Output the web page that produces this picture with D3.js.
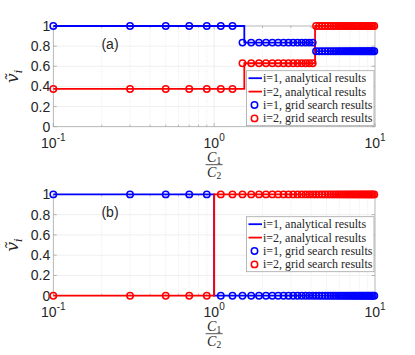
<!DOCTYPE html>
<html><head><meta charset="utf-8">
<script src="https://cdn.jsdelivr.net/npm/d3@7"></script>
<style>body{margin:0;background:#fff}svg{display:block}</style>
</head><body>
<script>
// ---------- data ----------
const gridX = [0.1,0.3,0.5,0.7,0.9,1.1,1.3,1.5,1.7,1.9,2.1,2.3,2.5,2.7,2.9,3.1,3.3,3.5,3.7,3.9,4.1,4.3,4.5,4.7,4.9,5.1,5.3,5.5,5.7,5.9,6.1,6.3,6.5,6.7,6.9,7.1,7.3,7.5,7.7,7.9,8.1,8.3,8.5,8.7,8.9,9.1,9.3,9.5,9.7,9.9];
// panel (a) grid search results
const gridBlueA = [1,1,1,1,1,1,1,0.835,0.835,0.835,0.835,0.835,0.835,0.835,0.835,0.835,0.835,0.835,0.835,0.835,0.835,0.75,0.75,0.75,0.75,0.75,0.75,0.75,0.75,0.75,0.75,0.75,0.75,0.75,0.75,0.75,0.75,0.75,0.75,0.75,0.75,0.75,0.75,0.75,0.75,0.75,0.75,0.75,0.75,0.75];
const gridRedA  = [0.375,0.375,0.375,0.375,0.375,0.375,0.375,0.63,0.63,0.63,0.63,0.63,0.63,0.63,0.63,0.63,0.63,0.63,0.63,0.63,0.63,1,1,1,1,1,1,1,1,1,1,1,1,1,1,1,1,1,1,1,1,1,1,1,1,1,1,1,1,1];
// panel (b) grid search results
const gridBlueB = [1,1,1,1,1,0,0,0,0,0,0,0,0,0,0,0,0,0,0,0,0,0,0,0,0,0,0,0,0,0,0,0,0,0,0,0,0,0,0,0,0,0,0,0,0,0,0,0,0,0];
const gridRedB  = [0,0,0,0,0,1,1,1,1,1,1,1,1,1,1,1,1,1,1,1,1,1,1,1,1,1,1,1,1,1,1,1,1,1,1,1,1,1,1,1,1,1,1,1,1,1,1,1,1,1];
// analytical step functions: breakpoints and levels
const breaksA = [0.1, 1.54, 4.24, 10];
const anaBlueA = [1, 0.835, 0.75];
const anaRedA  = [0.375, 0.63, 1];
const breaksB = [0.1, 1.0, 10];
const anaBlueB = [1, 0];
const anaRedB  = [0, 1];
const yTicks = [0, 0.2, 0.4, 0.6, 0.8, 1];
const yTickLabels = ["0","0.2","0.4","0.6","0.8","1"];
const xTicks = [0.1, 1, 10];
const xTickExp = ["-1","0","1"];
const legendLabels = ["i=1, analytical results","i=2, analytical results","i=1, grid search results","i=2, grid search results"];
const panelLabels = ["(a)","(b)"];

// ---------- drawing ----------
const W = 415, H = 355;
const svg = d3.select("body").append("svg").attr("width", W).attr("height", H);
const BLUE = "#0000ff", RED = "#ff0000";
const x = d3.scaleLog().domain([0.1, 10]).range([53.3, 375]);
const sans = "'Liberation Sans', Arial, sans-serif";
const serif = "'Liberation Serif', 'Times New Roman', serif";

function stepPts(breaks, levels) {
  const pts = levels.map((v, i) => [breaks[i], v]);
  pts.push([breaks[breaks.length - 1], levels[levels.length - 1]]);
  return pts;
}

function panel(top, bottom, cfg) {
  const y = d3.scaleLinear().domain([0, 1]).range([bottom, top]);
  const g = svg.append("g");
  const x0 = x.range()[0], x1 = x.range()[1];
  // grid
  const minor = [];
  [0.1, 1].forEach(d => { for (let k = 2; k <= 9; k++) minor.push(d * k); });
  g.selectAll(".gxm").data(minor).enter().append("line")
    .attr("x1", d => x(d)).attr("x2", d => x(d)).attr("y1", top).attr("y2", bottom)
    .attr("stroke", "#dcdcdc").attr("stroke-width", 0.6).attr("stroke-dasharray", "1,1.5");
  g.selectAll(".gxM").data([1]).enter().append("line")
    .attr("x1", d => x(d)).attr("x2", d => x(d)).attr("y1", top).attr("y2", bottom)
    .attr("stroke", "#e6e6e6").attr("stroke-width", 0.7);
  g.selectAll(".gy").data(yTicks.slice(1, -1)).enter().append("line")
    .attr("x1", x0).attr("x2", x1).attr("y1", d => y(d)).attr("y2", d => y(d))
    .attr("stroke", "#e8e8e8").attr("stroke-width", 0.7);

  // axes box
  g.append("rect").attr("x", x0).attr("y", top).attr("width", x1 - x0).attr("height", bottom - top)
    .attr("fill", "none").attr("stroke", "#a6a6a6").attr("stroke-width", 0.8);
  // ticks (inward)
  const tl = 3.5;
  yTicks.forEach(t => {
    g.append("line").attr("x1", x0).attr("x2", x0 + tl).attr("y1", y(t)).attr("y2", y(t)).attr("stroke", "#a6a6a6").attr("stroke-width", 0.8);
    g.append("line").attr("x1", x1).attr("x2", x1 - tl).attr("y1", y(t)).attr("y2", y(t)).attr("stroke", "#a6a6a6").attr("stroke-width", 0.8);
  });
  minor.concat(xTicks).forEach(t => {
    const len = xTicks.includes(t) ? tl : 2;
    g.append("line").attr("x1", x(t)).attr("x2", x(t)).attr("y1", bottom).attr("y2", bottom - len).attr("stroke", "#a6a6a6").attr("stroke-width", 0.8);
    g.append("line").attr("x1", x(t)).attr("x2", x(t)).attr("y1", top).attr("y2", top + len).attr("stroke", "#a6a6a6").attr("stroke-width", 0.8);
  });
  // y tick labels
  g.selectAll(".ytl").data(yTicks).enter().append("text")
    .attr("x", x0 - 3).attr("y", d => y(d)).attr("dy", "0.36em")
    .attr("text-anchor", "end").attr("font-family", sans)
    .attr("font-size", 14).attr("fill", "#262626").text((d, i) => yTickLabels[i]);
  // x tick labels
  xTicks.forEach((t, i) => {
    const tx = g.append("text").attr("x", x(t)).attr("y", bottom + 21.5)
      .attr("text-anchor", "middle").attr("font-family", sans)
      .attr("font-size", 14).attr("fill", "#262626");
    tx.append("tspan").text("10");
    tx.append("tspan").attr("dy", -7).attr("font-size", 10).text(xTickExp[i]);
  });
  // x label fraction C1/C2
  const fx = (x0 + x1) / 2;
  const c1 = g.append("text").attr("x", fx).attr("y", bottom + 35).attr("text-anchor", "middle")
    .attr("font-family", serif).attr("font-style", "italic").attr("font-size", 14).attr("fill", "#262626");
  c1.append("tspan").text("C");
  c1.append("tspan").attr("dy", 2.5).attr("font-size", 9.5).attr("font-style", "normal").text("1");
  g.append("line").attr("x1", fx - 8.5).attr("x2", fx + 8.5).attr("y1", bottom + 38).attr("y2", bottom + 38)
    .attr("stroke", "#262626").attr("stroke-width", 0.8);
  const c2 = g.append("text").attr("x", fx).attr("y", bottom + 50).attr("text-anchor", "middle")
    .attr("font-family", serif).attr("font-style", "italic").attr("font-size", 14).attr("fill", "#262626");
  c2.append("tspan").text("C");
  c2.append("tspan").attr("dy", 2.5).attr("font-size", 9.5).attr("font-style", "normal").text("2");
  // y label
  const yl = g.append("text").attr("transform", `translate(18,${(top + bottom) / 2}) rotate(-90)`)
    .attr("text-anchor", "middle").attr("font-family", "'DejaVu Serif', serif").attr("font-style", "italic")
    .attr("font-size", 17).attr("fill", "#262626");
  yl.append("tspan").text("\u1E7D");
  yl.append("tspan").attr("dy", 4).attr("font-size", 11).text("i");
  // panel label
  g.append("text").attr("x", 110).attr("y", top + 22.5).attr("text-anchor", "middle")
    .attr("font-family", sans).attr("font-size", 14).attr("fill", "#262626").text(cfg.label);

  // analytical lines
  const line = d3.line().x(d => x(d[0])).y(d => y(d[1])).curve(d3.curveStepAfter);
  g.append("path").attr("d", line(stepPts(cfg.breaks, cfg.anaBlue))).attr("fill", "none").attr("stroke", BLUE).attr("stroke-width", 1.8);
  g.append("path").attr("d", line(stepPts(cfg.breaks, cfg.anaRed))).attr("fill", "none").attr("stroke", RED).attr("stroke-width", 1.8);
  // grid search circles
  g.selectAll(".cb").data(gridX).enter().append("circle")
    .attr("cx", d => x(d)).attr("cy", (d, i) => y(cfg.gridBlue[i])).attr("r", 3.2)
    .attr("fill", "none").attr("stroke", BLUE).attr("stroke-width", 1.5);
  g.selectAll(".cr").data(gridX).enter().append("circle")
    .attr("cx", d => x(d)).attr("cy", (d, i) => y(cfg.gridRed[i])).attr("r", 3.2)
    .attr("fill", "none").attr("stroke", RED).attr("stroke-width", 1.5);

  // legend
  const lg = g.append("g");
  const lx = cfg.legend[0], ly = cfg.legend[1], lw = 127.5, lh = 55;
  lg.append("rect").attr("x", lx).attr("y", ly).attr("width", lw).attr("height", lh)
    .attr("fill", "#fff").attr("stroke", "#a6a6a6").attr("stroke-width", 0.8);
  const cols = [BLUE, RED, BLUE, RED];
  legendLabels.forEach((t, i) => {
    const ry = ly + 7.5 + i * 13.4;
    if (i < 2) {
      lg.append("line").attr("x1", lx + 2).attr("x2", lx + 15.5).attr("y1", ry).attr("y2", ry).attr("stroke", cols[i]).attr("stroke-width", 1.8);
    } else {
      lg.append("circle").attr("cx", lx + 8).attr("cy", ry).attr("r", 3.2).attr("fill", "none").attr("stroke", cols[i]).attr("stroke-width", 1.5);
    }
    lg.append("text").attr("x", lx + 16.5).attr("y", ry).attr("dy", "0.33em")
      .attr("font-family", serif).attr("font-size", 12).attr("fill", "#262626").text(t);
  });
}

panel(26, 126.7, {label: panelLabels[0], breaks: breaksA, anaBlue: anaBlueA, anaRed: anaRedA, gridBlue: gridBlueA, gridRed: gridRedA, legend: [246.5, 70.7]});
panel(194.4, 295.7, {label: panelLabels[1], breaks: breaksB, anaBlue: anaBlueB, anaRed: anaRedB, gridBlue: gridBlueB, gridRed: gridRedB, legend: [246.5, 216.7]});
</script>
</body></html>
